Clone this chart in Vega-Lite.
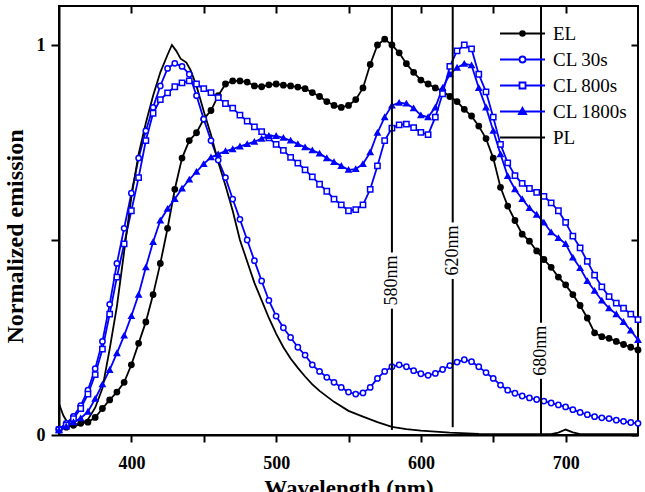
{
"$schema": "https://vega.github.io/schema/vega-lite/v6.json",
"width": 579, "height": 429,
"autosize": {"type": "none"},
"padding": {"left": 59, "top": 6, "right": 7, "bottom": 57},
"background": "white",
"config": {
 "font": "Liberation Serif",
 "view": {"stroke": "black", "strokeWidth": 2},
 "axis": {"grid": false, "domainColor": "black", "domainWidth": 2, "tickColor": "black", "tickWidth": 2, "labelFont": "Liberation Serif", "labelFontWeight": "bold", "labelFontSize": 18, "labelColor": "black", "titleFont": "Liberation Serif", "titleFontWeight": "bold", "titleFontSize": 23, "titleColor": "black"},
 "legend": {"title": null, "orient": "none", "legendX": 454, "legendY": 18, "padding": 0, "labelFont": "Liberation Serif", "labelFontSize": 19, "labelFontWeight": "normal", "labelColor": "black", "symbolSize": 36, "symbolStrokeWidth": 1.8, "labelOffset": 21, "rowPadding": 6}
},
"datasets": {
 "spectra": [
{"series":"EL","wl":350,"v":0.015},{"series":"EL","wl":355,"v":0.02},{"series":"EL","wl":360,"v":0.025},{"series":"EL","wl":365,"v":0.03},{"series":"EL","wl":370,"v":0.033},{"series":"EL","wl":375,"v":0.045},{"series":"EL","wl":380,"v":0.068},{"series":"EL","wl":385,"v":0.09},{"series":"EL","wl":390,"v":0.11},{"series":"EL","wl":395,"v":0.135},{"series":"EL","wl":400,"v":0.18},{"series":"EL","wl":405,"v":0.235},{"series":"EL","wl":410,"v":0.29},{"series":"EL","wl":415,"v":0.36},{"series":"EL","wl":420,"v":0.44},{"series":"EL","wl":425,"v":0.53},{"series":"EL","wl":430,"v":0.63},{"series":"EL","wl":435,"v":0.71},{"series":"EL","wl":440,"v":0.755},{"series":"EL","wl":445,"v":0.775},{"series":"EL","wl":450,"v":0.81},{"series":"EL","wl":455,"v":0.832},{"series":"EL","wl":460,"v":0.87},{"series":"EL","wl":465,"v":0.9},{"series":"EL","wl":470,"v":0.908},{"series":"EL","wl":475,"v":0.908},{"series":"EL","wl":480,"v":0.905},{"series":"EL","wl":485,"v":0.895},{"series":"EL","wl":490,"v":0.893},{"series":"EL","wl":495,"v":0.898},{"series":"EL","wl":500,"v":0.9},{"series":"EL","wl":505,"v":0.897},{"series":"EL","wl":510,"v":0.895},{"series":"EL","wl":515,"v":0.892},{"series":"EL","wl":520,"v":0.888},{"series":"EL","wl":525,"v":0.878},{"series":"EL","wl":530,"v":0.868},{"series":"EL","wl":535,"v":0.855},{"series":"EL","wl":540,"v":0.845},{"series":"EL","wl":545,"v":0.84},{"series":"EL","wl":550,"v":0.845},{"series":"EL","wl":555,"v":0.86},{"series":"EL","wl":560,"v":0.89},{"series":"EL","wl":565,"v":0.95},{"series":"EL","wl":570,"v":1.0},{"series":"EL","wl":575,"v":1.015},{"series":"EL","wl":580,"v":1.0},{"series":"EL","wl":585,"v":0.98},{"series":"EL","wl":590,"v":0.952},{"series":"EL","wl":595,"v":0.93},{"series":"EL","wl":600,"v":0.91},{"series":"EL","wl":605,"v":0.9},{"series":"EL","wl":610,"v":0.89},{"series":"EL","wl":615,"v":0.882},{"series":"EL","wl":620,"v":0.868},{"series":"EL","wl":625,"v":0.855},{"series":"EL","wl":630,"v":0.835},{"series":"EL","wl":635,"v":0.818},{"series":"EL","wl":640,"v":0.792},{"series":"EL","wl":645,"v":0.76},{"series":"EL","wl":650,"v":0.71},{"series":"EL","wl":655,"v":0.635},{"series":"EL","wl":660,"v":0.587},{"series":"EL","wl":665,"v":0.55},{"series":"EL","wl":670,"v":0.515},{"series":"EL","wl":675,"v":0.497},{"series":"EL","wl":680,"v":0.472},{"series":"EL","wl":685,"v":0.45},{"series":"EL","wl":690,"v":0.43},{"series":"EL","wl":695,"v":0.405},{"series":"EL","wl":700,"v":0.385},{"series":"EL","wl":705,"v":0.36},{"series":"EL","wl":710,"v":0.332},{"series":"EL","wl":715,"v":0.3},{"series":"EL","wl":720,"v":0.262},{"series":"EL","wl":725,"v":0.252},{"series":"EL","wl":730,"v":0.248},{"series":"EL","wl":735,"v":0.24},{"series":"EL","wl":740,"v":0.232},{"series":"EL","wl":745,"v":0.225},{"series":"EL","wl":750,"v":0.218},
{"series":"CL 30s","wl":350,"v":0.015},{"series":"CL 30s","wl":355,"v":0.03},{"series":"CL 30s","wl":360,"v":0.048},{"series":"CL 30s","wl":365,"v":0.075},{"series":"CL 30s","wl":370,"v":0.115},{"series":"CL 30s","wl":375,"v":0.17},{"series":"CL 30s","wl":380,"v":0.24},{"series":"CL 30s","wl":385,"v":0.335},{"series":"CL 30s","wl":390,"v":0.44},{"series":"CL 30s","wl":395,"v":0.53},{"series":"CL 30s","wl":400,"v":0.62},{"series":"CL 30s","wl":405,"v":0.71},{"series":"CL 30s","wl":410,"v":0.78},{"series":"CL 30s","wl":415,"v":0.84},{"series":"CL 30s","wl":420,"v":0.895},{"series":"CL 30s","wl":425,"v":0.94},{"series":"CL 30s","wl":430,"v":0.953},{"series":"CL 30s","wl":435,"v":0.945},{"series":"CL 30s","wl":440,"v":0.925},{"series":"CL 30s","wl":445,"v":0.87},{"series":"CL 30s","wl":450,"v":0.81},{"series":"CL 30s","wl":455,"v":0.755},{"series":"CL 30s","wl":460,"v":0.705},{"series":"CL 30s","wl":465,"v":0.66},{"series":"CL 30s","wl":470,"v":0.605},{"series":"CL 30s","wl":475,"v":0.553},{"series":"CL 30s","wl":480,"v":0.5},{"series":"CL 30s","wl":485,"v":0.447},{"series":"CL 30s","wl":490,"v":0.395},{"series":"CL 30s","wl":495,"v":0.345},{"series":"CL 30s","wl":500,"v":0.305},{"series":"CL 30s","wl":505,"v":0.275},{"series":"CL 30s","wl":510,"v":0.25},{"series":"CL 30s","wl":515,"v":0.225},{"series":"CL 30s","wl":520,"v":0.205},{"series":"CL 30s","wl":525,"v":0.18},{"series":"CL 30s","wl":530,"v":0.163},{"series":"CL 30s","wl":535,"v":0.148},{"series":"CL 30s","wl":540,"v":0.135},{"series":"CL 30s","wl":545,"v":0.122},{"series":"CL 30s","wl":550,"v":0.11},{"series":"CL 30s","wl":555,"v":0.105},{"series":"CL 30s","wl":560,"v":0.108},{"series":"CL 30s","wl":565,"v":0.122},{"series":"CL 30s","wl":570,"v":0.145},{"series":"CL 30s","wl":575,"v":0.163},{"series":"CL 30s","wl":580,"v":0.175},{"series":"CL 30s","wl":585,"v":0.18},{"series":"CL 30s","wl":590,"v":0.175},{"series":"CL 30s","wl":595,"v":0.165},{"series":"CL 30s","wl":600,"v":0.157},{"series":"CL 30s","wl":605,"v":0.153},{"series":"CL 30s","wl":610,"v":0.158},{"series":"CL 30s","wl":615,"v":0.168},{"series":"CL 30s","wl":620,"v":0.178},{"series":"CL 30s","wl":625,"v":0.187},{"series":"CL 30s","wl":630,"v":0.193},{"series":"CL 30s","wl":635,"v":0.188},{"series":"CL 30s","wl":640,"v":0.175},{"series":"CL 30s","wl":645,"v":0.16},{"series":"CL 30s","wl":650,"v":0.145},{"series":"CL 30s","wl":655,"v":0.128},{"series":"CL 30s","wl":660,"v":0.115},{"series":"CL 30s","wl":665,"v":0.107},{"series":"CL 30s","wl":670,"v":0.1},{"series":"CL 30s","wl":675,"v":0.095},{"series":"CL 30s","wl":680,"v":0.091},{"series":"CL 30s","wl":685,"v":0.087},{"series":"CL 30s","wl":690,"v":0.082},{"series":"CL 30s","wl":695,"v":0.077},{"series":"CL 30s","wl":700,"v":0.072},{"series":"CL 30s","wl":705,"v":0.065},{"series":"CL 30s","wl":710,"v":0.058},{"series":"CL 30s","wl":715,"v":0.052},{"series":"CL 30s","wl":720,"v":0.047},{"series":"CL 30s","wl":725,"v":0.044},{"series":"CL 30s","wl":730,"v":0.042},{"series":"CL 30s","wl":735,"v":0.038},{"series":"CL 30s","wl":740,"v":0.035},{"series":"CL 30s","wl":745,"v":0.032},{"series":"CL 30s","wl":750,"v":0.03},
{"series":"CL 800s","wl":350,"v":0.013},{"series":"CL 800s","wl":355,"v":0.025},{"series":"CL 800s","wl":360,"v":0.042},{"series":"CL 800s","wl":365,"v":0.068},{"series":"CL 800s","wl":370,"v":0.105},{"series":"CL 800s","wl":375,"v":0.155},{"series":"CL 800s","wl":380,"v":0.22},{"series":"CL 800s","wl":385,"v":0.31},{"series":"CL 800s","wl":390,"v":0.405},{"series":"CL 800s","wl":395,"v":0.49},{"series":"CL 800s","wl":400,"v":0.575},{"series":"CL 800s","wl":405,"v":0.66},{"series":"CL 800s","wl":410,"v":0.755},{"series":"CL 800s","wl":415,"v":0.825},{"series":"CL 800s","wl":420,"v":0.86},{"series":"CL 800s","wl":425,"v":0.877},{"series":"CL 800s","wl":430,"v":0.893},{"series":"CL 800s","wl":435,"v":0.903},{"series":"CL 800s","wl":440,"v":0.908},{"series":"CL 800s","wl":445,"v":0.9},{"series":"CL 800s","wl":450,"v":0.888},{"series":"CL 800s","wl":455,"v":0.878},{"series":"CL 800s","wl":460,"v":0.865},{"series":"CL 800s","wl":465,"v":0.85},{"series":"CL 800s","wl":470,"v":0.838},{"series":"CL 800s","wl":475,"v":0.82},{"series":"CL 800s","wl":480,"v":0.805},{"series":"CL 800s","wl":485,"v":0.79},{"series":"CL 800s","wl":490,"v":0.778},{"series":"CL 800s","wl":495,"v":0.762},{"series":"CL 800s","wl":500,"v":0.745},{"series":"CL 800s","wl":505,"v":0.73},{"series":"CL 800s","wl":510,"v":0.712},{"series":"CL 800s","wl":515,"v":0.697},{"series":"CL 800s","wl":520,"v":0.68},{"series":"CL 800s","wl":525,"v":0.662},{"series":"CL 800s","wl":530,"v":0.643},{"series":"CL 800s","wl":535,"v":0.625},{"series":"CL 800s","wl":540,"v":0.605},{"series":"CL 800s","wl":545,"v":0.59},{"series":"CL 800s","wl":550,"v":0.575},{"series":"CL 800s","wl":555,"v":0.578},{"series":"CL 800s","wl":560,"v":0.59},{"series":"CL 800s","wl":565,"v":0.63},{"series":"CL 800s","wl":570,"v":0.69},{"series":"CL 800s","wl":575,"v":0.755},{"series":"CL 800s","wl":580,"v":0.787},{"series":"CL 800s","wl":585,"v":0.795},{"series":"CL 800s","wl":590,"v":0.797},{"series":"CL 800s","wl":595,"v":0.788},{"series":"CL 800s","wl":600,"v":0.776},{"series":"CL 800s","wl":605,"v":0.77},{"series":"CL 800s","wl":610,"v":0.815},{"series":"CL 800s","wl":615,"v":0.875},{"series":"CL 800s","wl":620,"v":0.945},{"series":"CL 800s","wl":625,"v":0.985},{"series":"CL 800s","wl":630,"v":1.0},{"series":"CL 800s","wl":635,"v":0.99},{"series":"CL 800s","wl":640,"v":0.925},{"series":"CL 800s","wl":645,"v":0.88},{"series":"CL 800s","wl":650,"v":0.815},{"series":"CL 800s","wl":655,"v":0.745},{"series":"CL 800s","wl":660,"v":0.698},{"series":"CL 800s","wl":665,"v":0.665},{"series":"CL 800s","wl":670,"v":0.645},{"series":"CL 800s","wl":675,"v":0.632},{"series":"CL 800s","wl":680,"v":0.622},{"series":"CL 800s","wl":685,"v":0.612},{"series":"CL 800s","wl":690,"v":0.595},{"series":"CL 800s","wl":695,"v":0.575},{"series":"CL 800s","wl":700,"v":0.545},{"series":"CL 800s","wl":705,"v":0.51},{"series":"CL 800s","wl":710,"v":0.48},{"series":"CL 800s","wl":715,"v":0.445},{"series":"CL 800s","wl":720,"v":0.41},{"series":"CL 800s","wl":725,"v":0.38},{"series":"CL 800s","wl":730,"v":0.355},{"series":"CL 800s","wl":735,"v":0.338},{"series":"CL 800s","wl":740,"v":0.325},{"series":"CL 800s","wl":745,"v":0.31},{"series":"CL 800s","wl":750,"v":0.296},
{"series":"CL 1800s","wl":350,"v":0.012},{"series":"CL 1800s","wl":355,"v":0.022},{"series":"CL 1800s","wl":360,"v":0.033},{"series":"CL 1800s","wl":365,"v":0.043},{"series":"CL 1800s","wl":370,"v":0.06},{"series":"CL 1800s","wl":375,"v":0.093},{"series":"CL 1800s","wl":380,"v":0.13},{"series":"CL 1800s","wl":385,"v":0.167},{"series":"CL 1800s","wl":390,"v":0.21},{"series":"CL 1800s","wl":395,"v":0.255},{"series":"CL 1800s","wl":400,"v":0.305},{"series":"CL 1800s","wl":405,"v":0.36},{"series":"CL 1800s","wl":410,"v":0.43},{"series":"CL 1800s","wl":415,"v":0.495},{"series":"CL 1800s","wl":420,"v":0.55},{"series":"CL 1800s","wl":425,"v":0.58},{"series":"CL 1800s","wl":430,"v":0.605},{"series":"CL 1800s","wl":435,"v":0.632},{"series":"CL 1800s","wl":440,"v":0.655},{"series":"CL 1800s","wl":445,"v":0.675},{"series":"CL 1800s","wl":450,"v":0.695},{"series":"CL 1800s","wl":455,"v":0.712},{"series":"CL 1800s","wl":460,"v":0.72},{"series":"CL 1800s","wl":465,"v":0.728},{"series":"CL 1800s","wl":470,"v":0.733},{"series":"CL 1800s","wl":475,"v":0.74},{"series":"CL 1800s","wl":480,"v":0.746},{"series":"CL 1800s","wl":485,"v":0.752},{"series":"CL 1800s","wl":490,"v":0.76},{"series":"CL 1800s","wl":495,"v":0.767},{"series":"CL 1800s","wl":500,"v":0.767},{"series":"CL 1800s","wl":505,"v":0.762},{"series":"CL 1800s","wl":510,"v":0.755},{"series":"CL 1800s","wl":515,"v":0.746},{"series":"CL 1800s","wl":520,"v":0.738},{"series":"CL 1800s","wl":525,"v":0.73},{"series":"CL 1800s","wl":530,"v":0.722},{"series":"CL 1800s","wl":535,"v":0.71},{"series":"CL 1800s","wl":540,"v":0.7},{"series":"CL 1800s","wl":545,"v":0.69},{"series":"CL 1800s","wl":550,"v":0.68},{"series":"CL 1800s","wl":555,"v":0.682},{"series":"CL 1800s","wl":560,"v":0.695},{"series":"CL 1800s","wl":565,"v":0.725},{"series":"CL 1800s","wl":570,"v":0.775},{"series":"CL 1800s","wl":575,"v":0.815},{"series":"CL 1800s","wl":580,"v":0.845},{"series":"CL 1800s","wl":585,"v":0.852},{"series":"CL 1800s","wl":590,"v":0.85},{"series":"CL 1800s","wl":595,"v":0.838},{"series":"CL 1800s","wl":600,"v":0.82},{"series":"CL 1800s","wl":605,"v":0.815},{"series":"CL 1800s","wl":610,"v":0.84},{"series":"CL 1800s","wl":615,"v":0.89},{"series":"CL 1800s","wl":620,"v":0.925},{"series":"CL 1800s","wl":625,"v":0.942},{"series":"CL 1800s","wl":630,"v":0.952},{"series":"CL 1800s","wl":635,"v":0.948},{"series":"CL 1800s","wl":640,"v":0.89},{"series":"CL 1800s","wl":645,"v":0.84},{"series":"CL 1800s","wl":650,"v":0.78},{"series":"CL 1800s","wl":655,"v":0.72},{"series":"CL 1800s","wl":660,"v":0.664},{"series":"CL 1800s","wl":665,"v":0.63},{"series":"CL 1800s","wl":670,"v":0.605},{"series":"CL 1800s","wl":675,"v":0.582},{"series":"CL 1800s","wl":680,"v":0.565},{"series":"CL 1800s","wl":685,"v":0.545},{"series":"CL 1800s","wl":690,"v":0.52},{"series":"CL 1800s","wl":695,"v":0.505},{"series":"CL 1800s","wl":700,"v":0.49},{"series":"CL 1800s","wl":705,"v":0.455},{"series":"CL 1800s","wl":710,"v":0.428},{"series":"CL 1800s","wl":715,"v":0.395},{"series":"CL 1800s","wl":720,"v":0.37},{"series":"CL 1800s","wl":725,"v":0.345},{"series":"CL 1800s","wl":730,"v":0.325},{"series":"CL 1800s","wl":735,"v":0.31},{"series":"CL 1800s","wl":740,"v":0.29},{"series":"CL 1800s","wl":745,"v":0.268},{"series":"CL 1800s","wl":750,"v":0.244},
{"series":"PL","wl":350,"v":0.08},{"series":"PL","wl":353,"v":0.05},{"series":"PL","wl":357,"v":0.025},{"series":"PL","wl":360,"v":0.022},{"series":"PL","wl":365,"v":0.028},{"series":"PL","wl":370,"v":0.04},{"series":"PL","wl":375,"v":0.07},{"series":"PL","wl":380,"v":0.12},{"series":"PL","wl":385,"v":0.22},{"series":"PL","wl":390,"v":0.33},{"series":"PL","wl":395,"v":0.47},{"series":"PL","wl":400,"v":0.61},{"series":"PL","wl":405,"v":0.72},{"series":"PL","wl":410,"v":0.8},{"series":"PL","wl":415,"v":0.87},{"series":"PL","wl":420,"v":0.93},{"series":"PL","wl":425,"v":0.975},{"series":"PL","wl":428,"v":1.0},{"series":"PL","wl":431,"v":0.985},{"series":"PL","wl":434,"v":0.965},{"series":"PL","wl":438,"v":0.955},{"series":"PL","wl":441,"v":0.935},{"series":"PL","wl":445,"v":0.895},{"series":"PL","wl":450,"v":0.83},{"series":"PL","wl":455,"v":0.77},{"series":"PL","wl":460,"v":0.7},{"series":"PL","wl":465,"v":0.64},{"series":"PL","wl":470,"v":0.575},{"series":"PL","wl":475,"v":0.5},{"series":"PL","wl":480,"v":0.445},{"series":"PL","wl":485,"v":0.39},{"series":"PL","wl":490,"v":0.345},{"series":"PL","wl":495,"v":0.3},{"series":"PL","wl":500,"v":0.26},{"series":"PL","wl":505,"v":0.225},{"series":"PL","wl":510,"v":0.196},{"series":"PL","wl":515,"v":0.172},{"series":"PL","wl":520,"v":0.15},{"series":"PL","wl":525,"v":0.13},{"series":"PL","wl":530,"v":0.113},{"series":"PL","wl":540,"v":0.085},{"series":"PL","wl":550,"v":0.062},{"series":"PL","wl":560,"v":0.047},{"series":"PL","wl":570,"v":0.033},{"series":"PL","wl":580,"v":0.021},{"series":"PL","wl":590,"v":0.015},{"series":"PL","wl":600,"v":0.011},{"series":"PL","wl":620,"v":0.006},{"series":"PL","wl":640,"v":0.003},{"series":"PL","wl":660,"v":0.002},{"series":"PL","wl":690,"v":0.002},{"series":"PL","wl":695,"v":0.006},{"series":"PL","wl":700,"v":0.014},{"series":"PL","wl":705,"v":0.007},{"series":"PL","wl":710,"v":0.002},{"series":"PL","wl":750,"v":0.002}
 ],
 "refs": [
  {"x":580,"y":0.013,"y2":0.324},{"x":580,"y":0.468,"y2":1.1},
  {"x":622,"y":0.02,"y2":0.40},{"x":622,"y":0.545,"y2":1.1},
  {"x":683,"y":0,"y2":0.144},{"x":683,"y":0.288,"y2":1.1}
 ],
 "reflabels": [
  {"x":580,"y":0.396,"t":"580nm"},{"x":622,"y":0.473,"t":"620nm"},{"x":683,"y":0.216,"t":"680nm"}
 ]
},
"layer": [
 {
  "data": {"name": "spectra"},
  "mark": {"type": "line", "strokeWidth": 1.8},
  "encoding": {
   "x": {"field": "wl", "type": "quantitative", "scale": {"domain": [350, 750], "nice": false, "zero": false},
         "axis": {"orient": "bottom", "values": [400, 450, 500, 550, 600, 650, 700], "labelExpr": "datum.value % 100 === 0 ? datum.label : ''", "tickSize": 7, "labelPadding": 12, "title": "Wavelength (nm)", "titlePadding": 5}},
   "y": {"field": "v", "type": "quantitative", "scale": {"domain": [0, 1.1], "nice": false, "zero": false},
         "axis": {"orient": "left", "values": [0, 0.5, 1], "labelExpr": "datum.value === 0 ? '0' : datum.value === 1 ? '1' : ''", "tickSize": 8, "labelPadding": 6, "title": "Normalized emission", "titlePadding": 9, "titleFontSize": 24, "titleY": 230}},
   "detail": {"field": "series", "type": "nominal"},
   "stroke": {"condition": {"test": "datum.series === 'EL' || datum.series === 'PL'", "value": "black"}, "value": "#0000ff"},
   "order": {"field": "wl", "type": "quantitative"}
  }
 },
 {
  "data": {"name": "spectra"},
  "transform": [{"filter": "datum.series !== 'PL'"}],
  "mark": {"type": "point", "size": 28, "strokeWidth": 1.5, "opacity": 1},
  "encoding": {
   "x": {"field": "wl", "type": "quantitative", "scale": {"domain": [350, 750], "nice": false, "zero": false}, "axis": null},
   "y": {"field": "v", "type": "quantitative", "scale": {"domain": [0, 1.1], "nice": false, "zero": false}, "axis": null},
   "stroke": {"condition": {"test": "datum.series === 'EL'", "value": "black"}, "value": "#0000ff"},
   "fill": {"condition": [{"test": "datum.series === 'EL'", "value": "black"}, {"test": "datum.series === 'CL 1800s'", "value": "#0000ff"}], "value": "white"},
   "shape": {"condition": [{"test": "datum.series === 'CL 800s'", "value": "square"}, {"test": "datum.series === 'CL 1800s'", "value": "triangle-up"}], "value": "circle"}
  }
 },
 {
  "data": {"name": "spectra"},
  "transform": [{"filter": "datum.wl < 0"}],
  "mark": {"type": "point", "filled": true, "size": 36, "strokeWidth": 1.8, "opacity": 1},
  "encoding": {
   "x": {"field": "wl", "type": "quantitative", "scale": {"domain": [350, 750], "nice": false, "zero": false}, "axis": null},
   "y": {"field": "v", "type": "quantitative", "scale": {"domain": [0, 1.1], "nice": false, "zero": false}, "axis": null},
   "shape": {"field": "series", "type": "nominal", "scale": {"domain": ["EL", "CL 30s", "CL 800s", "CL 1800s", "PL"], "range": ["M-7.5,0L7.5,0M-0.8,0A0.8,0.8,0,1,1,0.8,0A0.8,0.8,0,1,1,-0.8,0Z", "M-7.5,0L-1,0M1,0L7.5,0M-1,0A1,1,0,1,1,1,0A1,1,0,1,1,-1,0Z", "M-7.5,0L-1,0M1,0L7.5,0M-1,-1L1,-1L1,1L-1,1Z", "M-7.5,0L7.5,0M0,-1.2L1.2,0.9L-1.2,0.9Z", "M-7.5,0L7.5,0"]}},
   "stroke": {"field": "series", "type": "nominal", "scale": {"domain": ["EL", "CL 30s", "CL 800s", "CL 1800s", "PL"], "range": ["black", "#0000ff", "#0000ff", "#0000ff", "black"]}},
   "fill": {"field": "series", "type": "nominal", "scale": {"domain": ["EL", "CL 30s", "CL 800s", "CL 1800s", "PL"], "range": ["black", "white", "white", "#0000ff", "white"]}}
  }
 },
 {
  "data": {"name": "refs"},
  "mark": {"type": "rule", "strokeWidth": 2, "color": "black"},
  "encoding": {
   "x": {"field": "x", "type": "quantitative", "scale": {"domain": [350, 750], "nice": false, "zero": false},
         "axis": {"orient": "top", "values": [400, 450, 500, 550, 600, 650, 700], "labels": false, "domain": false, "tickSize": -7, "title": null}},
   "y": {"field": "y", "type": "quantitative", "scale": {"domain": [0, 1.1], "nice": false, "zero": false},
         "axis": {"orient": "right", "values": [0, 0.5, 1], "labels": false, "domain": false, "tickSize": -7, "title": null}},
   "y2": {"field": "y2"}
  }
 },
 {
  "data": {"name": "reflabels"},
  "mark": {"type": "text", "angle": 270, "font": "Liberation Serif", "fontSize": 18, "color": "black", "align": "center", "baseline": "middle"},
  "encoding": {
   "x": {"field": "x", "type": "quantitative", "axis": null},
   "y": {"field": "y", "type": "quantitative", "axis": null},
   "text": {"field": "t"}
  }
 }
],
"resolve": {"axis": {"x": "independent", "y": "independent"}}
}
